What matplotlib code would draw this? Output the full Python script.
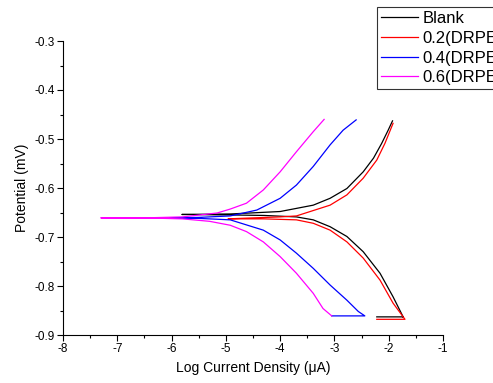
import matplotlib.pyplot as plt
from matplotlib.ticker import MultipleLocator, FormatStrFormatter

plt.rcParams["font.family"] = ["Liberation Sans", "DejaVu Sans"]

# E (V) vs log i, in scan order
blank_x = [-2.22, -1.73, -1.73, -1.92, -2.16, -2.47, -2.77, -3.08, -3.39, -3.70, -4.30,
           -4.92, -5.81, -4.92, -4.00, -3.39, -3.08, -2.77, -2.47, -2.28, -2.13, -2.01,
           -1.93]
blank_y = [-0.863, -0.863, -0.864, -0.822, -0.774, -0.730, -0.699, -0.679, -0.665, -0.659,
           -0.656, -0.655, -0.654, -0.653, -0.648, -0.635, -0.621, -0.601, -0.567, -0.539,
           -0.509, -0.482, -0.463]

drpe02_x = [-2.22, -1.70, -1.70, -1.92, -2.16, -2.47, -2.77, -3.08, -3.39, -3.70, -4.30,
            -4.96, -4.50, -4.00, -3.70, -3.08, -2.77, -2.47, -2.22, -2.07, -1.92]
drpe02_y = [-0.868, -0.868, -0.868, -0.835, -0.788, -0.743, -0.710, -0.686, -0.672, -0.665,
            -0.663, -0.663, -0.661, -0.659, -0.657, -0.635, -0.614, -0.580, -0.543, -0.509,
            -0.468]

drpe04_x = [-3.05, -2.44, -2.44, -2.56, -2.77, -3.08, -3.39, -3.70, -4.00, -4.31, -4.92,
            -5.50, -6.20, -5.50, -4.92, -4.43, -4.00, -3.70, -3.39, -3.08, -2.84, -2.60]
drpe04_y = [-0.861, -0.861, -0.861, -0.852, -0.829, -0.798, -0.764, -0.733, -0.706, -0.686,
            -0.665, -0.662, -0.661, -0.660, -0.657, -0.645, -0.621, -0.594, -0.556, -0.512,
            -0.482, -0.461]

drpe06_x = [-3.05, -3.21, -3.39, -3.70, -4.00, -4.31, -4.62, -4.92, -5.30, -5.80, -6.50,
            -7.30, -6.50, -5.80, -5.16, -4.92, -4.62, -4.31, -4.00, -3.70, -3.39, -3.19]
drpe06_y = [-0.861, -0.846, -0.815, -0.774, -0.740, -0.710, -0.689, -0.676, -0.668, -0.663,
            -0.661, -0.661, -0.661, -0.659, -0.651, -0.643, -0.631, -0.604, -0.567, -0.526,
            -0.485, -0.460]

labels = ["Blank", "0.2(DRPE)", "0.4(DRPE)", "0.6(DRPE)"]
colors = ["black", "red", "blue", "#FF00FF"]

fig = plt.figure(figsize=(4.93, 3.83), dpi=100)
ax = fig.add_axes([63 / 493, 48 / 383, 380 / 493, 294 / 383])

series = [(blank_x, blank_y), (drpe02_x, drpe02_y), (drpe04_x, drpe04_y), (drpe06_x, drpe06_y)]
for (xs, ys), lab, c in zip(series, labels, colors):
    ax.plot(xs, ys, color=c, lw=0.9, label=lab)

ax.set_xlim(-8, -1)
ax.set_ylim(-0.9, -0.3)
ax.spines["top"].set_visible(False)
ax.spines["right"].set_visible(False)
ax.xaxis.set_major_locator(MultipleLocator(1))
ax.xaxis.set_minor_locator(MultipleLocator(0.5))
ax.yaxis.set_major_locator(MultipleLocator(0.1))
ax.yaxis.set_minor_locator(MultipleLocator(0.05))
ax.yaxis.set_major_formatter(FormatStrFormatter("%.1f"))
ax.xaxis.set_major_formatter(FormatStrFormatter("%d"))
ax.tick_params(which="major", direction="out", length=4, width=0.8, labelsize=8.5, pad=2)
ax.tick_params(which="minor", direction="out", length=2.5, width=0.8)
ax.set_xlabel("Log Current Density (μA)", fontsize=10, labelpad=4)
ax.set_ylabel("Potential (mV)", fontsize=10, labelpad=4)

# legend runs off the right edge, as in the original
leg = fig.legend(loc="upper left", bbox_to_anchor=(377 / 493, 1 - 7 / 383), fontsize=12,
                 frameon=True, fancybox=False, edgecolor="black", handlelength=2.2,
                 handletextpad=0.3, borderpad=0.25, labelspacing=0.28, borderaxespad=0)
leg.get_frame().set_linewidth(0.8)

fig.savefig("out.png", dpi=100)
